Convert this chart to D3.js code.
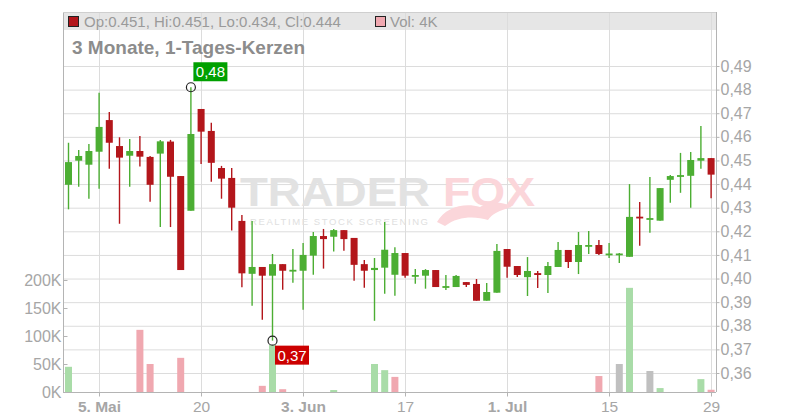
<!DOCTYPE html>
<html>
<head>
<meta charset="utf-8">
<script src="https://cdn.jsdelivr.net/npm/d3@7"></script>
<style>
  html, body { margin: 0; padding: 0; background: #fff; }
  svg { display: block; font-family: "Liberation Sans", Arial, sans-serif; }
</style>
</head>
<body>
<svg id="chart" width="800" height="420"></svg>
<script>
// ---- data ----
const opens  = [0.4397,0.4499,0.4482,0.4537,0.4671,0.4561,0.4520,0.4540,0.4515,0.4529,
                0.4580,0.4434,0.4287,0.4718,0.4625,0.4468,0.4426,0.4244,0.4020,0.4049,
                0.4012,0.4061,0.4035,0.4033,0.4097,0.4180,0.4177,0.4205,0.4172,0.4061,
                0.4036,0.4046,0.4016,0.4108,0.4012,0.4012,0.4036,0.3966,0.3964,0.3985,
                0.3977,0.3906,0.3940,0.4125,0.4053,0.4006,0.4023,0.4015,0.4049,0.4121,
                0.4070,0.4140,0.4142,0.4104,0.4104,0.4092,0.4262,0.4254,0.4245,0.4418,
                0.4431,0.4435,0.4499,0.4510];
const highs  = [0.4575,0.4544,0.4570,0.4787,0.4705,0.4598,0.4591,0.4604,0.4519,0.4587,
                0.4587,0.4434,0.4810,0.4718,0.4660,0.4477,0.4468,0.4269,0.4244,0.4049,
                0.4104,0.4061,0.4125,0.4150,0.4197,0.4210,0.4210,0.4205,0.4172,0.4078,
                0.4087,0.4239,0.4133,0.4108,0.4040,0.4040,0.4036,0.4015,0.4015,0.3985,
                0.3998,0.3981,0.4146,0.4125,0.4053,0.4091,0.4032,0.4070,0.4155,0.4121,
                0.4197,0.4201,0.4163,0.4150,0.4108,0.4400,0.4324,0.4430,0.4383,0.4438,
                0.4532,0.4536,0.4646,0.4510];
const lows   = [0.4293,0.4389,0.4338,0.4380,0.4465,0.4232,0.4389,0.4474,0.4325,0.4218,
                0.4218,0.4036,0.4287,0.4485,0.4410,0.4338,0.4203,0.3963,0.3885,0.3826,
                0.3737,0.3953,0.3982,0.3868,0.4016,0.4042,0.4114,0.4118,0.3991,0.3961,
                0.3821,0.3936,0.3927,0.4003,0.3978,0.3957,0.3964,0.3951,0.3964,0.3964,
                0.3906,0.3906,0.3940,0.4003,0.4007,0.3926,0.3960,0.3939,0.4049,0.4045,
                0.4019,0.4104,0.4100,0.4087,0.4066,0.4092,0.4139,0.4194,0.4245,0.4321,
                0.4363,0.4300,0.4465,0.4340];
const closes = [0.4493,0.4519,0.4540,0.4642,0.4575,0.4512,0.4540,0.4516,0.4397,0.4581,
                0.4431,0.4036,0.4612,0.4622,0.4490,0.4423,0.4300,0.4022,0.4049,0.4012,
                0.4061,0.4033,0.4037,0.4100,0.4180,0.4167,0.4205,0.4167,0.4058,0.4033,
                0.4045,0.4122,0.4108,0.4012,0.4015,0.4036,0.3964,0.3968,0.4011,0.3973,
                0.3906,0.3943,0.4117,0.4050,0.4015,0.4032,0.4015,0.4053,0.4121,0.4070,
                0.4142,0.4142,0.4104,0.4106,0.4106,0.4261,0.4256,0.4256,0.4383,0.4434,
                0.4438,0.4502,0.4510,0.4440];
// volume in thousands
const volumes = [45,0,0,0,0,0,0,111,50,0,
                 0,61,0,0,0,0,0,0,0,11,
                 84,5,0,0,0,0,3.5,0,0,0,
                 50,39,27,0,0,0,0,0,0,0,
                 0,0,0,0,0,0,0,0,0,0,
                 0,0,28.5,0,50,186,0,37.5,7,0,
                 0,0,23,4];
const dateTickIndex  = [3, 13, 23, 33, 43, 53, 63];
const dateTickLabels = ["5. Mai", "20", "3. Jun", "17", "1. Jul", "15", "29"];
const dateTickBold   = [true, false, true, false, true, false, false];
const priceTicks  = [0.36,0.37,0.38,0.39,0.40,0.41,0.42,0.43,0.44,0.45,0.46,0.47,0.48,0.49];
const volumeTicks = [0, 50, 100, 150, 200];
const titleText = "3 Monate, 1-Tages-Kerzen";

// ---- layout ----
const L = 63, R = 716, T = 12, B = 392;
const UP = "#4cae33", DOWN = "#b3161b";
const VUP = "#a9dca8", VDOWN = "#f0a8b0", VFLAT = "#c0c0c0";
const GRID = "#dcdcdc", AXIS = "#b4b4b4", LABEL = "#a6a6a6";

const svg = d3.select("#chart");
const data = opens.map((o, i) => ({ i, o, h: highs[i], l: lows[i], c: closes[i], v: volumes[i] }));

const x  = d3.scaleLinear().domain([0, 63]).range([68.5, 711.1]);
const yP = d3.scaleLinear().domain([0.36, 0.49]).range([373, 66]);
const yV = d3.scaleLinear().domain([0, 200]).range([B, 280]);

// header band
svg.append("rect").attr("x", L).attr("y", T).attr("width", R - L).attr("height", 18).attr("fill", "#e6e6e6");

// grid
const g = svg.append("g");
g.selectAll("line.h").data(priceTicks).join("line")
  .attr("x1", L).attr("x2", R).attr("y1", d => yP(d) + 0.5).attr("y2", d => yP(d) + 0.5)
  .attr("stroke", GRID).attr("stroke-width", 1);
g.selectAll("line.v").data(dateTickIndex).join("line")
  .attr("x1", d => Math.round(x(d)) + 0.5).attr("x2", d => Math.round(x(d)) + 0.5)
  .attr("y1", T).attr("y2", B).attr("stroke", GRID).attr("stroke-width", 1);

// watermark
const wm = svg.append("g").attr("pointer-events", "none");
wm.append("text").attr("x", 240).attr("y", 206).text("TRADER")
  .attr("font-size", 40).attr("font-weight", "bold").attr("fill", "#e2e2e2")
  .attr("textLength", 190).attr("lengthAdjust", "spacingAndGlyphs");
wm.append("text").attr("x", 443).attr("y", 206).text("FOX")
  .attr("font-size", 40).attr("font-weight", "bold").attr("fill", "#fbd6da")
  .attr("textLength", 92).attr("lengthAdjust", "spacingAndGlyphs");
wm.append("path")
  .attr("d", "M437,222 C445,207 465,202 480,207 C490,200 505,202 512,207 C500,210 492,214 488,220 C475,216 458,216 445,226 Z")
  .attr("fill", "#fbd6da");
wm.append("text").attr("x", 250).attr("y", 224.5).text("REALTIME STOCK SCREENING")
  .attr("font-size", 9.5).attr("fill", "#e0e0e0")
  .attr("textLength", 178).attr("lengthAdjust", "spacing");

// volume bars
svg.append("g").selectAll("rect").data(data.filter(d => d.v > 0)).join("rect")
  .attr("x", d => x(d.i) - 3.5).attr("width", 7)
  .attr("y", d => yV(d.v)).attr("height", d => B - yV(d.v))
  .attr("fill", d => {
    if (d.i === 0) return VUP;
    const p = closes[d.i - 1];
    return Math.abs(d.c - p) < 1e-9 ? VFLAT : (d.c > p ? VUP : VDOWN);
  });

// candles
const cg = svg.append("g");
cg.selectAll("line").data(data).join("line")
  .attr("x1", d => x(d.i)).attr("x2", d => x(d.i))
  .attr("y1", d => yP(d.h)).attr("y2", d => yP(d.l))
  .attr("stroke", d => d.c >= d.o ? UP : DOWN).attr("stroke-width", 1.4);
cg.selectAll("rect").data(data).join("rect")
  .attr("x", d => x(d.i) - 3.5).attr("width", 7)
  .attr("y", d => yP(Math.max(d.o, d.c)))
  .attr("height", d => Math.max(1.8, Math.abs(yP(d.o) - yP(d.c))))
  .attr("fill", d => d.c >= d.o ? UP : DOWN);

// axes lines / frame
svg.append("line").attr("x1", L + 0.5).attr("x2", L + 0.5).attr("y1", T).attr("y2", B).attr("stroke", AXIS);
svg.append("line").attr("x1", L).attr("x2", R).attr("y1", T + 0.5).attr("y2", T + 0.5).attr("stroke", "#cfcfcf");

// price axis (right)
const pAxis = svg.append("g").attr("transform", `translate(${R + 0.5},0)`)
  .call(d3.axisRight(yP).tickValues(priceTicks).tickSize(3).tickPadding(1)
        .tickFormat(d => d3.format(".2f")(d).replace(".", ",")));
pAxis.select(".domain").attr("d", `M0,${T}V${B}`).attr("stroke", AXIS);
pAxis.selectAll(".tick line").attr("stroke", AXIS);
pAxis.selectAll("text").attr("font-size", 16).attr("fill", LABEL).attr("font-family", "Liberation Sans, Arial, sans-serif");

// volume axis (left)
const vAxis = svg.append("g").attr("transform", `translate(${L + 0.5},0)`)
  .call(d3.axisLeft(yV).tickValues(volumeTicks).tickSizeInner(-4).tickSizeOuter(0).tickPadding(2)
        .tickFormat(d => d + "K"));
vAxis.select(".domain").remove();
vAxis.selectAll(".tick line").attr("stroke", AXIS);
vAxis.selectAll("text").attr("font-size", 16).attr("fill", LABEL).attr("font-family", "Liberation Sans, Arial, sans-serif");

// date axis (bottom)
const xAxis = svg.append("g").attr("transform", `translate(0,${B + 0.5})`)
  .call(d3.axisBottom(x).tickValues(dateTickIndex).tickSize(4).tickPadding(4)
        .tickFormat((d, k) => dateTickLabels[k]));
xAxis.select(".domain").attr("d", `M${L},0H${R}`).attr("stroke", AXIS);
xAxis.selectAll(".tick").attr("transform", d => `translate(${Math.round(x(d)) + 0.5},0)`);
xAxis.selectAll(".tick line").attr("stroke", AXIS);
xAxis.selectAll("text").attr("font-size", 15.5).attr("fill", LABEL)
  .attr("font-family", "Liberation Sans, Arial, sans-serif")
  .attr("font-weight", (d, k) => dateTickBold[k] ? "bold" : "normal");

// header legend
const last = data[data.length - 1];
svg.append("rect").attr("x", 68.5).attr("y", 16.5).attr("width", 10).attr("height", 10)
  .attr("fill", last.c >= last.o ? UP : DOWN).attr("stroke", "#222").attr("stroke-width", 1);
svg.append("text").attr("x", 84).attr("y", 27).attr("font-size", 15).attr("fill", "#9a9a9a")
  .text(`Op:${last.o.toFixed(3)}, Hi:${last.h.toFixed(3)}, Lo:${last.l.toFixed(3)}, Cl:${last.c.toFixed(3)}`);
svg.append("rect").attr("x", 375.5).attr("y", 16.5).attr("width", 10).attr("height", 10)
  .attr("fill", VDOWN).attr("stroke", "#222").attr("stroke-width", 1);
svg.append("text").attr("x", 390).attr("y", 27).attr("font-size", 15).attr("fill", "#9a9a9a")
  .text(`Vol: ${last.v}K`);

// title
svg.append("text").attr("x", 72).attr("y", 54).attr("font-size", 19).attr("font-weight", "bold")
  .attr("fill", "#8c8c8c").text(titleText);

// high / low markers
const hiIdx = d3.maxIndex(highs), loIdx = d3.minIndex(lows);
const fmt = v => d3.format(".2f")(v).replace(".", ",");
function marker(idx, val, color, above) {
  const cx = x(idx), cy = yP(val);
  svg.append("circle").attr("cx", cx).attr("cy", cy).attr("r", 4.5)
    .attr("fill", "none").attr("stroke", "#222").attr("stroke-width", 1.2);
  const bw = 34, bh = 19;
  const bx = cx + 2.5, by = above ? cy - 25 : cy + 5;
  svg.append("rect").attr("x", bx).attr("y", by).attr("width", bw).attr("height", bh).attr("fill", color);
  svg.append("text").attr("x", bx + bw / 2).attr("y", by + 15).attr("text-anchor", "middle")
    .attr("font-size", 15).attr("fill", "#fff").text(fmt(val));
}
marker(hiIdx, highs[hiIdx], "#00a000", true);
marker(loIdx, lows[loIdx], "#cc0000", false);
</script>
</body>
</html>
